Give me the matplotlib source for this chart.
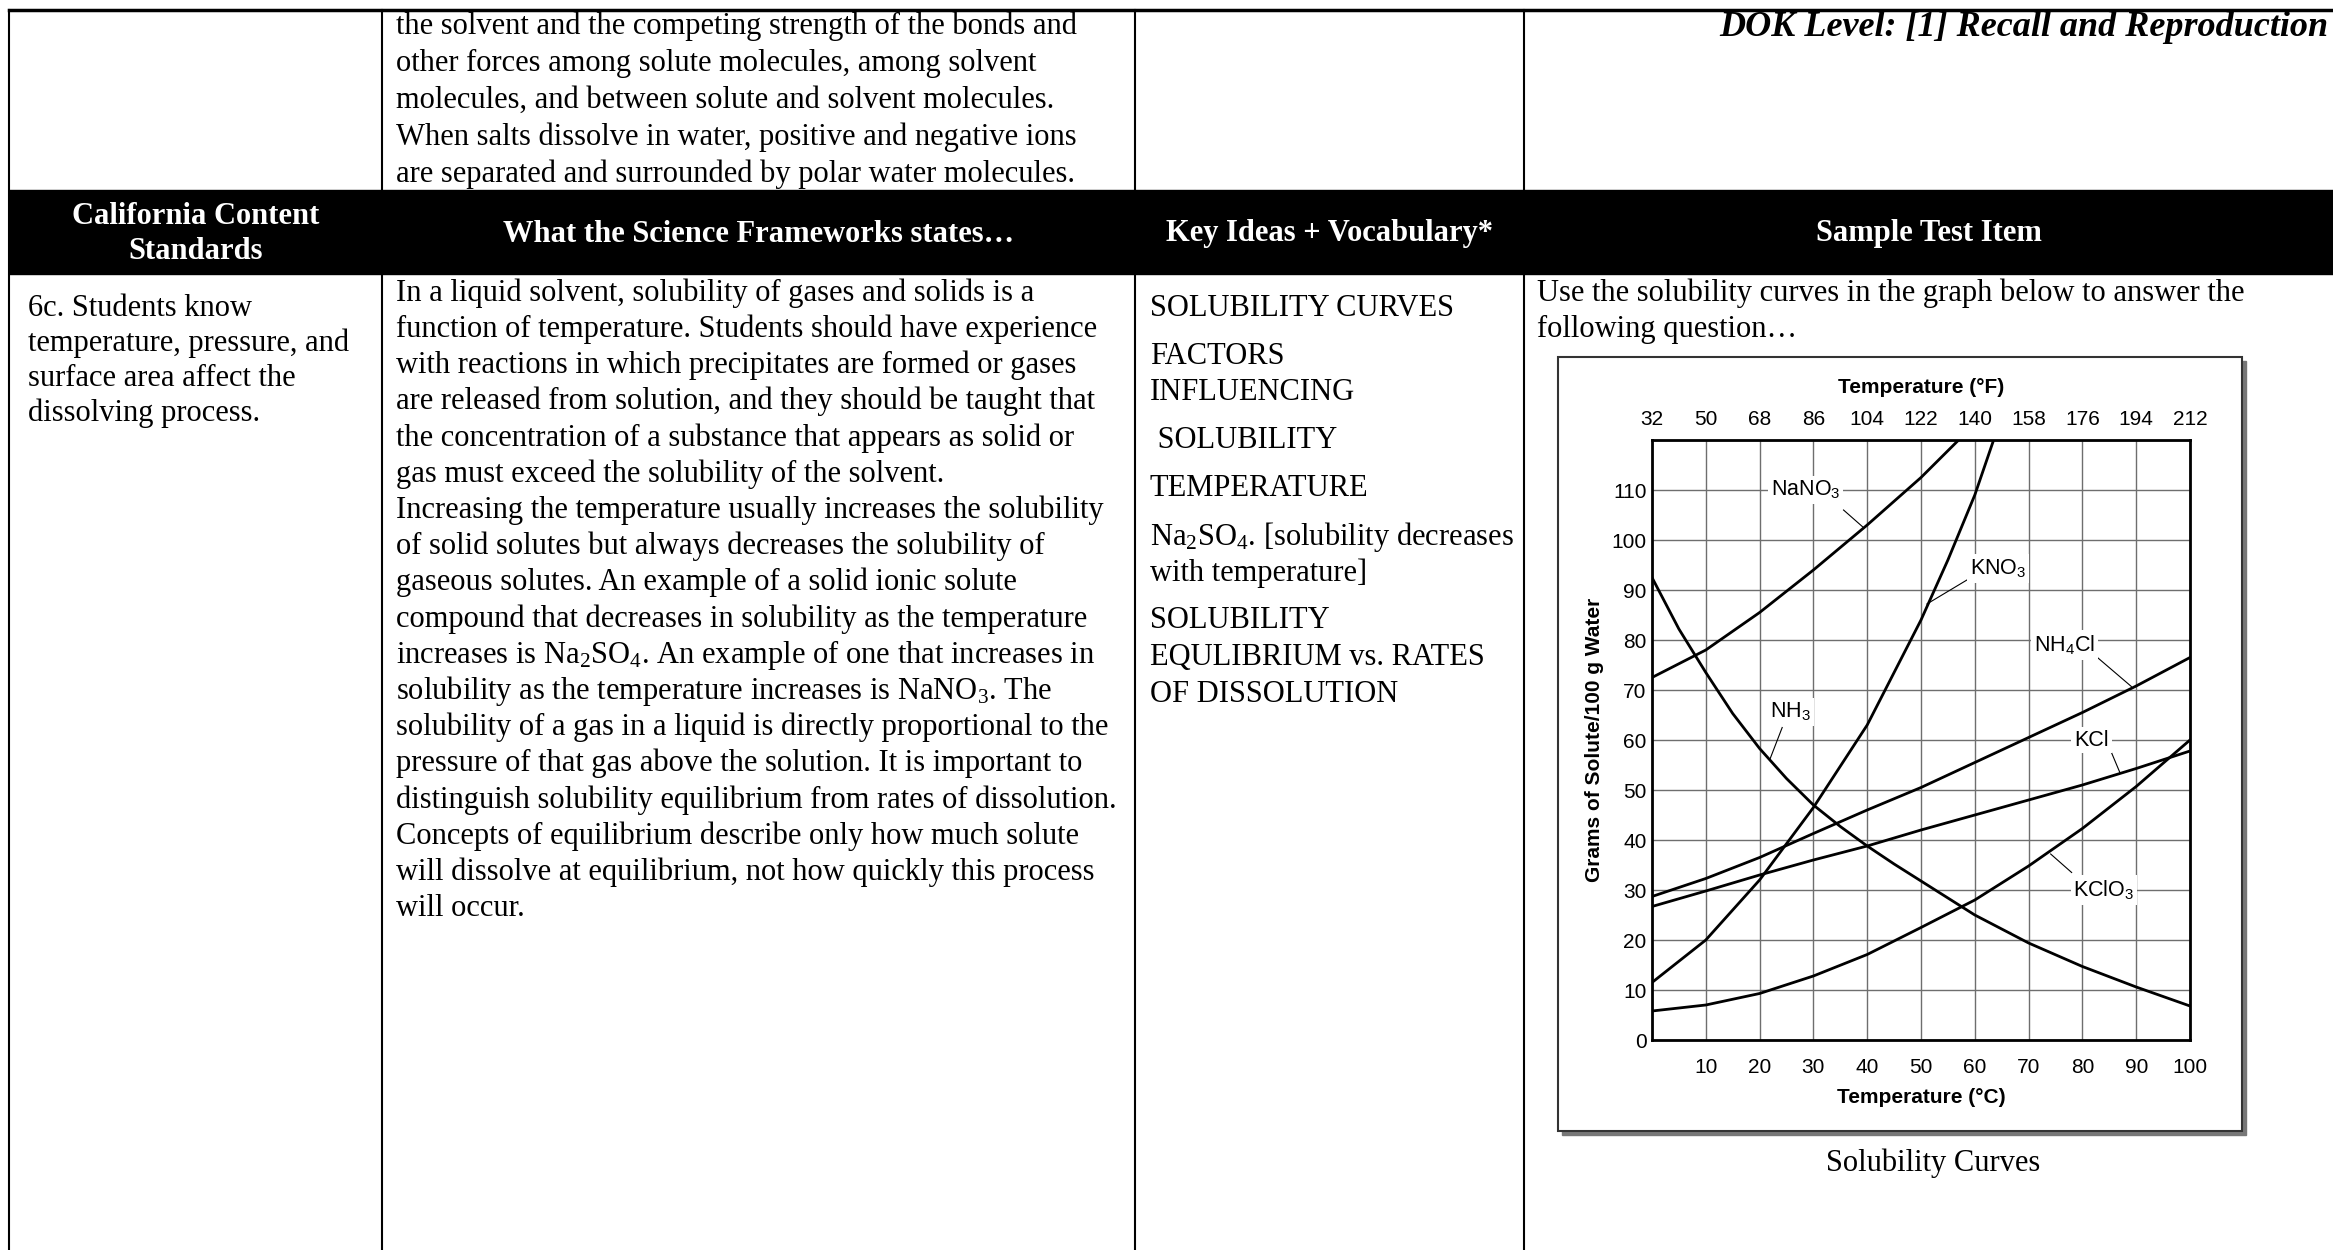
import matplotlib
matplotlib.use("Agg")
import matplotlib.pyplot as plt
from matplotlib.patches import Rectangle

plt.rcParams['mathtext.default'] = 'regular'

# solubility curves, grams of solute per 100 g water vs temperature (C)
temps = [0, 10, 20, 30, 40, 50, 60, 70, 80, 90, 100]
nh4cl = [28.7, 32.3, 36.5, 41.3, 46.0, 50.5, 55.5, 60.5, 65.5, 70.8, 76.5]
kcl = [26.7, 29.8, 33.0, 36.0, 38.8, 42.0, 45.0, 48.0, 51.0, 54.3, 57.8]
kclo3 = [5.8, 7.0, 9.3, 12.8, 17.1, 22.5, 28.0, 34.8, 42.3, 50.7, 60.0]

nano3_t = [0, 10, 20, 30, 40, 50, 57]
nano3 = [72.5, 78.0, 85.5, 94.0, 103.0, 112.5, 120.0]

kno3_t = [0, 10, 20, 30, 40, 50, 55, 60, 63.5]
kno3 = [11.5, 20.0, 32.0, 46.5, 63.0, 84.0, 96.0, 109.0, 120.0]

nh3_t = [0, 5, 10, 15, 20, 25, 30, 35, 40, 45, 50, 60, 70, 80, 90, 100]
nh3 = [92.5, 82.2, 73.5, 65.3, 58.3, 52.3, 47.0, 42.7, 38.8, 35.2, 31.8, 25.0, 19.4, 14.7, 10.6, 6.8]

f_ticks = [32, 50, 68, 86, 104, 122, 140, 158, 176, 194, 212]

# curve labels: name, label position, leader line start/end
curve_labels = [
    (r'NaNO$_3$', (28.6, 110.0), (35.6, 106.0), (39.3, 102.5)),
    (r'KNO$_3$', (64.4, 94.3), (59.0, 92.3), (51.1, 87.2)),
    (r'NH$_4$Cl', (76.7, 79.0), (82.9, 76.4), (89.1, 70.7)),
    ('KCl', (81.7, 60.0), (85.4, 57.5), (87.0, 53.4)),
    (r'NH$_3$', (25.8, 65.6), (24.2, 62.5), (21.9, 56.1)),
    (r'KClO$_3$', (84.0, 30.0), (78.0, 33.5), (74.1, 37.2)),
]

# table text
top_lines = [
    "the solvent and the competing strength of the bonds and",
    "other forces among solute molecules, among solvent",
    "molecules, and between solute and solvent molecules.",
    "When salts dissolve in water, positive and negative ions",
    "are separated and surrounded by polar water molecules.",
]
standard_lines = [
    "6c. Students know",
    "temperature, pressure, and",
    "surface area affect the",
    "dissolving process.",
]
framework_lines = [
    "In a liquid solvent, solubility of gases and solids is a",
    "function of temperature. Students should have experience",
    "with reactions in which precipitates are formed or gases",
    "are released from solution, and they should be taught that",
    "the concentration of a substance that appears as solid or",
    "gas must exceed the solubility of the solvent.",
    "Increasing the temperature usually increases the solubility",
    "of solid solutes but always decreases the solubility of",
    "gaseous solutes. An example of a solid ionic solute",
    "compound that decreases in solubility as the temperature",
    r"increases is Na$_2$SO$_4$. An example of one that increases in",
    r"solubility as the temperature increases is NaNO$_3$. The",
    "solubility of a gas in a liquid is directly proportional to the",
    "pressure of that gas above the solution. It is important to",
    "distinguish solubility equilibrium from rates of dissolution.",
    "Concepts of equilibrium describe only how much solute",
    "will dissolve at equilibrium, not how quickly this process",
    "will occur.",
]
vocab_lines = [
    ("SOLUBILITY CURVES", 308),
    ("FACTORS", 357),
    ("INFLUENCING", 393),
    (" SOLUBILITY", 440),
    ("TEMPERATURE", 488),
    (r"Na$_2$SO$_4$. [solubility decreases", 537),
    ("with temperature]", 573),
    ("SOLUBILITY", 620),
    ("EQULIBRIUM vs. RATES", 658),
    ("OF DISSOLUTION", 694),
]
item_lines = [
    "Use the solubility curves in the graph below to answer the",
    "following question\u2026",
]
headers = ["California Content\nStandards", "What the Science Frameworks states\u2026",
           "Key Ideas + Vocabulary*", "Sample Test Item"]

W, H = 2333, 1250
serif = 'Liberation Serif'
sans = 'Liberation Sans'
fs = 22

fig = plt.figure(figsize=(W / 100, H / 100), dpi=100)
page = fig.add_axes([0, 0, 1, 1])
page.set_xlim(0, W)
page.set_ylim(H, 0)
page.axis('off')

# column edges
cols = [9, 382, 1135, 1524, W]
band_top, band_bot = 190, 274

page.add_patch(Rectangle((cols[0], band_top), W - cols[0], band_bot - band_top, color='black'))
page.plot([cols[0], W], [10, 10], color='black', lw=2.5)
for x in cols[:-1]:
    page.plot([x, x], [10, H], color='black', lw=1.5)

for i, h in enumerate(headers):
    page.text((cols[i] + cols[i + 1]) / 2, (band_top + band_bot) / 2 + 2, h, color='white',
              family=serif, fontsize=fs, fontweight='bold', ha='center', va='center',
              linespacing=1.3)

page.text(2328, 28, "DOK Level: [1] Recall and Reproduction", family=serif, fontsize=26,
          fontweight='bold', style='italic', ha='right', va='center')

for i, s in enumerate(top_lines):
    page.text(396, 26 + 37 * i, s, family=serif, fontsize=fs, va='center')

for i, s in enumerate(standard_lines):
    page.text(28, 308 + 35 * i, s, family=serif, fontsize=fs, va='center')

for i, s in enumerate(framework_lines):
    page.text(396, 293 + 36.2 * i, s, family=serif, fontsize=fs, va='center')

for s, y in vocab_lines:
    page.text(1150, y, s, family=serif, fontsize=fs, va='center')

for i, s in enumerate(item_lines):
    page.text(1537, 293 + 36 * i, s, family=serif, fontsize=fs, va='center')

# framed figure with drop shadow
box = (1558, 357, 684, 774)
page.add_patch(Rectangle((box[0] + 4, box[1] + 4), box[2], box[3], color='#777777'))
page.add_patch(Rectangle((box[0], box[1]), box[2], box[3], facecolor='white',
                         edgecolor='#333333', lw=1.5))
page.text(1933, 1163, "Solubility Curves", family=serif, fontsize=fs, ha='center', va='center')

# solubility chart
left, right, top, bottom = 1652, 2190, 440, 1040
ax = fig.add_axes([left / W, (H - bottom) / H, (right - left) / W, (bottom - top) / H])
ax.set_xlim(0, 100)
ax.set_ylim(0, 120)

ax.set_xticks(range(0, 101, 10))
ax.set_xticklabels([''] + [str(t) for t in range(10, 101, 10)])
ax.set_yticks(range(0, 121, 10))
ax.set_yticklabels([str(v) for v in range(0, 111, 10)] + [''])
ax.grid(True, color='#6e6e6e', lw=1.0)
ax.tick_params(length=0, labelsize=15, pad=13)
ax.tick_params(axis='y', pad=4)
for lab in ax.get_xticklabels() + ax.get_yticklabels():
    lab.set_family(sans)
for sp in ax.spines.values():
    sp.set_linewidth(2)

c2f = lambda c: c * 9 / 5 + 32
f2c = lambda f: (f - 32) * 5 / 9
sec = ax.secondary_xaxis('top', functions=(c2f, f2c))
sec.set_xticks(f_ticks)
sec.tick_params(length=0, labelsize=15, pad=8)
for lab in sec.get_xticklabels():
    lab.set_family(sans)
ax.text(0.5, 1.087, "Temperature (\u00b0F)", transform=ax.transAxes, family=sans,
        fontsize=15, fontweight='bold', ha='center', va='center')

ax.set_xlabel("Temperature (\u00b0C)", family=sans, fontsize=15, fontweight='bold')
ax.xaxis.set_label_coords(0.5, -0.08)
ax.set_ylabel("Grams of Solute/100 g Water", family=sans, fontsize=15, fontweight='bold')
ax.yaxis.set_label_coords(-0.09, 0.5)

lw = 2.0
ax.plot(nano3_t, nano3, color='black', lw=lw)
ax.plot(kno3_t, kno3, color='black', lw=lw)
ax.plot(nh3_t, nh3, color='black', lw=lw)
ax.plot(temps, nh4cl, color='black', lw=lw)
ax.plot(temps, kcl, color='black', lw=lw)
ax.plot(temps, kclo3, color='black', lw=lw)

for name, (tx, ty), (x0, y0), (x1, y1) in curve_labels:
    ax.plot([x0, x1], [y0, y1], color='black', lw=0.8)
    ax.text(tx, ty, name, family=sans, fontsize=15.5, ha='center', va='center',
            bbox=dict(facecolor='white', edgecolor='none', pad=2))

fig.savefig("out.png", dpi=100)
